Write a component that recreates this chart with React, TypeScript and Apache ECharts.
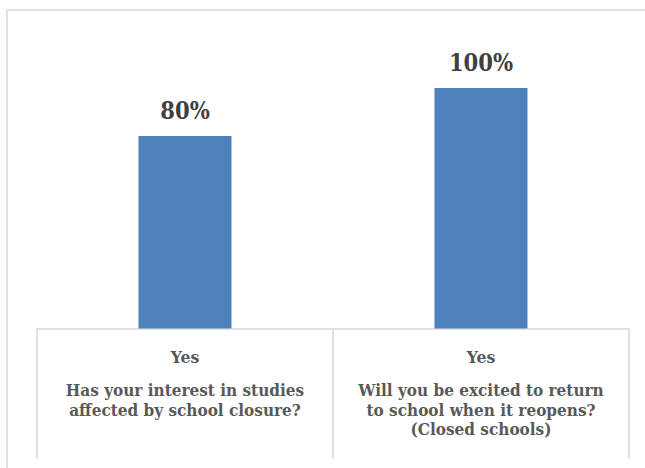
import React, { useEffect, useRef } from "react";
import * as echarts from "echarts";

const answers = ["Yes", "Yes"];
const questionLines = [
  ["Has your interest in studies", "affected by school closure?"],
  ["Will you be excited to return", "to school when it reopens?", "(Closed schools)"],
];
const values = [80, 100];

const FONT = "'DejaVu Serif Condensed', 'DejaVu Serif', serif";

export default function App() {
  const ref = useRef<HTMLDivElement>(null);
  useEffect(() => {
    if (!ref.current) return;
    const chart = echarts.init(ref.current, null, { renderer: "svg" });
    const cats = answers.map((a, i) => `${i}`);
    chart.setOption({
      animation: false,
      backgroundColor: "#ffffff",
      graphic: [
        {
          type: "rect",
          shape: { x: 7, y: 10, width: 700, height: 600 },
          style: { fill: "none", stroke: "#d9d9d9", lineWidth: 1.5 },
          silent: true,
        },
      ],
      grid: { left: 37, right: 16, top: 88, bottom: 139.5, outerBoundsMode: "none" },
      xAxis: {
        type: "category",
        data: cats,
        boundaryGap: true,
        axisLine: { show: true, lineStyle: { color: "#d9d9d9", width: 1.5 } },
        axisTick: { show: true, alignWithLabel: false, length: 130, lineStyle: { color: "#d9d9d9", width: 1.5 } },
        axisLabel: {
          interval: 0,
          margin: 5,
          formatter: (v: string) => {
            const i = Number(v);
            return [`{a|${answers[i]}}`, ...questionLines[i].map((l) => `{b|${l}}`)].join("\n");
          },
          rich: {
            a: { fontFamily: FONT, fontWeight: "bold", fontSize: 17.5, color: "#595959", lineHeight: 47, align: "center" },
            b: { fontFamily: FONT, fontWeight: "bold", fontSize: 17, color: "#595959", lineHeight: 19.5, align: "center" },
          },
        },
      },
      yAxis: { type: "value", min: 0, max: 100, show: false, splitLine: { show: false } },
      series: [
        {
          type: "bar",
          data: values,
          barWidth: 93,
          itemStyle: { color: "#4f81bd" },
          label: {
            show: true,
            position: "top",
            distance: 13,
            formatter: (p: any) => `${p.value}%`,
            fontFamily: FONT,
            fontWeight: "bold",
            fontSize: 23.5,
            color: "#404040",
          },
        },
      ],
    });
    return () => chart.dispose();
  }, []);
  return <div ref={ref} style={{ position: "fixed", left: 0, top: 0, width: 645, height: 468 }} />;
}
